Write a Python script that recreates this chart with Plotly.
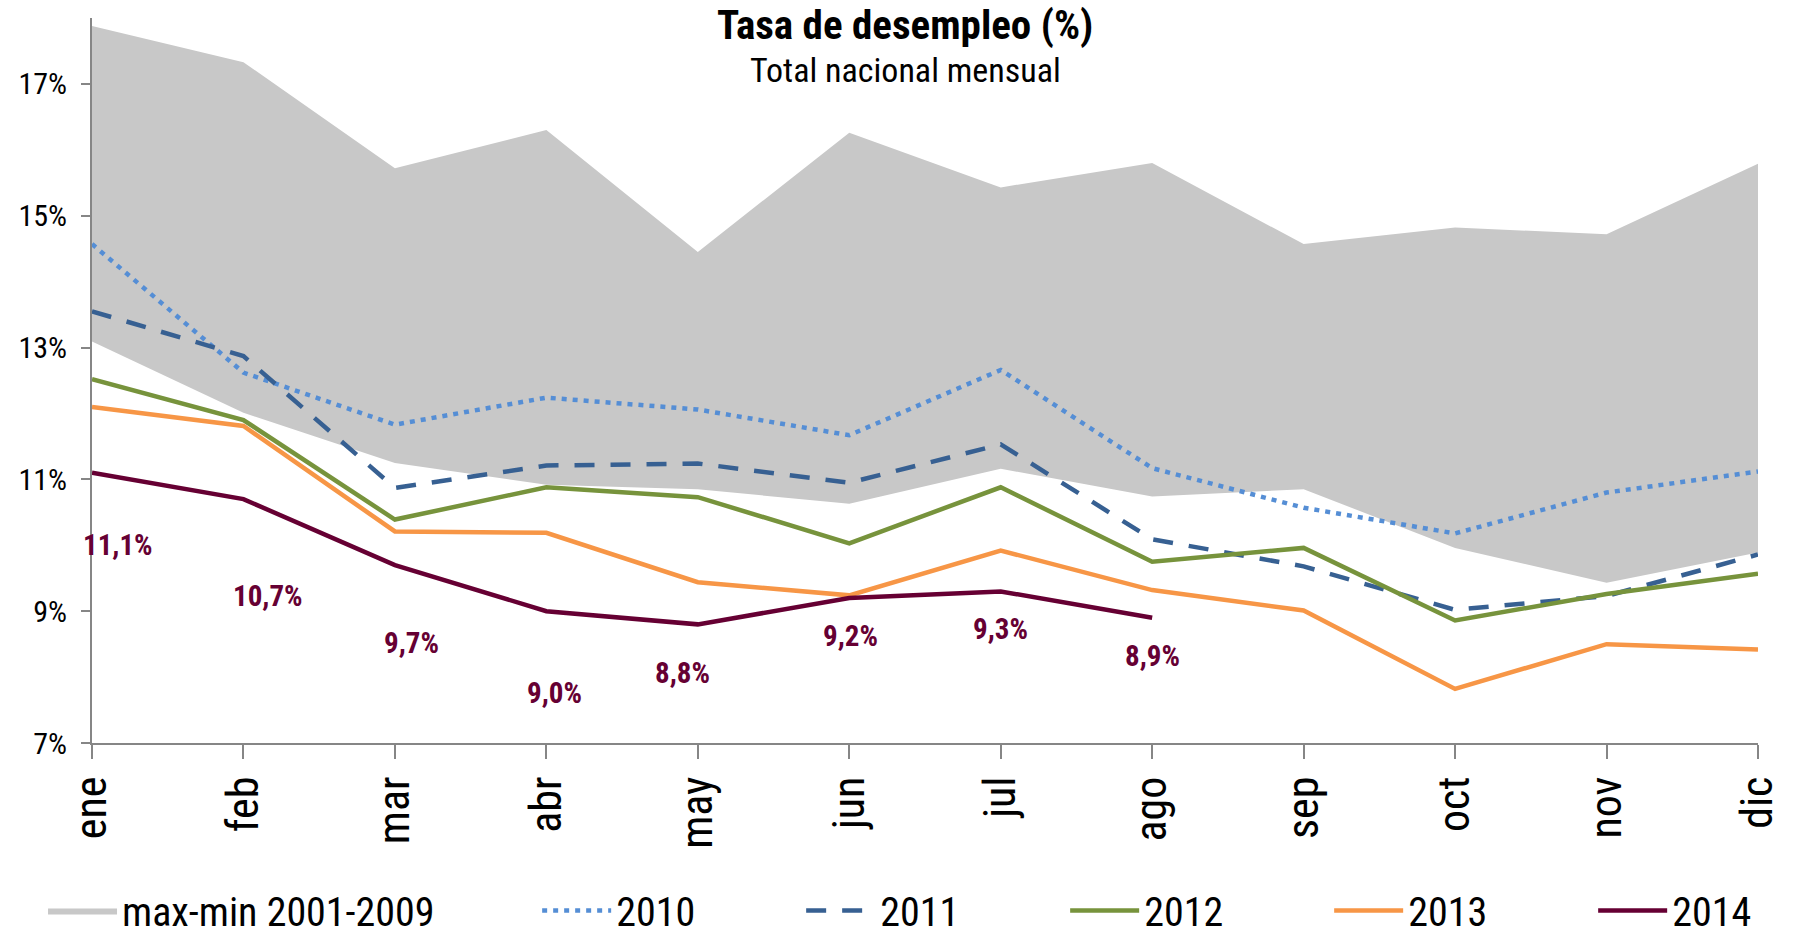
import plotly.graph_objects as go

months = ["ene", "feb", "mar", "abr", "may", "jun", "jul", "ago", "sep", "oct", "nov", "dic"]
band_max = [17.88, 17.33, 15.72, 16.30, 14.45, 16.26, 15.43, 15.80, 14.57, 14.82, 14.72, 15.79]
band_min = [13.09, 12.01, 11.25, 10.92, 10.85, 10.63, 11.16, 10.74, 10.85, 9.96, 9.43, 9.89]
y2010 = [14.57, 12.62, 11.83, 12.24, 12.06, 11.67, 12.66, 11.17, 10.57, 10.18, 10.80, 11.12]
y2011 = [13.55, 12.87, 10.87, 11.21, 11.24, 10.95, 11.53, 10.09, 9.68, 9.02, 9.23, 9.86]
y2012 = [12.52, 11.90, 10.39, 10.88, 10.73, 10.03, 10.88, 9.75, 9.96, 8.86, 9.26, 9.57]
y2013 = [12.10, 11.81, 10.21, 10.19, 9.44, 9.24, 9.92, 9.32, 9.01, 7.82, 8.50, 8.42]
y2014 = [11.1, 10.7, 9.7, 9.0, 8.8, 9.2, 9.3, 8.9]
y_ticks = [7, 9, 11, 13, 15, 17]

# label offsets (pixels) for the 2014 data labels
label_dx = [26, 25, 17, 8, -15, 1, 0, 0]
label_dy = [-72, -97, -78, -82, -49, -38, -38, -38]

FONT = "Roboto Condensed, Liberation Sans Narrow, Arial Narrow, DejaVu Sans Condensed, sans-serif"
GRAY = "#C8C8C8"
AXIS = "#868686"

fig = go.Figure()
fig.add_trace(go.Scatter(x=months, y=band_min, mode="lines", line=dict(width=0, color=GRAY),
                         showlegend=False, hoverinfo="skip"))
fig.add_trace(go.Scatter(x=months, y=band_max, mode="lines", line=dict(width=0, color=GRAY),
                         fill="tonexty", fillcolor=GRAY, name="max-min 2001-2009", legend="legend"))

series = [
    ("2010", y2010, "#558ED5", "5px,6px"),
    ("2011", y2011, "#376092", "20px,16px"),
    ("2012", y2012, "#77933C", "solid"),
    ("2013", y2013, "#F79646", "solid"),
    ("2014", y2014, "#660033", "solid"),
]
for name, ys, col, dash in series:
    fig.add_trace(go.Scatter(x=months[:len(ys)], y=ys, mode="lines", name=name,
                             line=dict(color=col, width=4.5, dash=dash), legend="legend2"))

for i, v in enumerate(y2014):
    fig.add_annotation(x=months[i], y=v, text=f"{v:.1f}%".replace(".", ","), showarrow=False,
                       xshift=label_dx[i], yshift=label_dy[i],
                       font=dict(family=FONT, size=29, color="#660033", weight="bold"))

fig.add_annotation(xref="paper", yref="paper", x=0.488, y=0.991, text="<b>Tasa de desempleo (%)</b>",
                   showarrow=False, yanchor="middle", font=dict(family=FONT, size=41, color="black"))
fig.add_annotation(xref="paper", yref="paper", x=0.488, y=0.928, text="Total nacional mensual",
                   showarrow=False, yanchor="middle", font=dict(family=FONT, size=34, color="black"))

fig.update_layout(
    width=1793, height=932,
    margin=dict(l=92, r=35, t=18, b=189, autoexpand=False),
    paper_bgcolor="white", plot_bgcolor="white",
    font=dict(family=FONT, color="black"),
    xaxis=dict(type="category", range=[0, 11], showline=True, linecolor=AXIS, linewidth=2,
               ticks="outside", ticklen=14, tickcolor=AXIS, tickwidth=2, tickangle=-90,
               showgrid=False, zeroline=False, tickfont=dict(family=FONT, size=44, color="black")),
    yaxis=dict(range=[7, 18], tickvals=y_ticks, ticktext=[f"{t}%" for t in y_ticks],
               showline=True, linecolor=AXIS, linewidth=2, ticks="outside", ticklen=9,
               tickcolor=AXIS, tickwidth=2, showgrid=False, zeroline=False, ticklabelstandoff=8,
               tickfont=dict(family=FONT, size=30, color="black")),
    legend=dict(orientation="h", x=-0.0294, xanchor="left", y=-0.231, yanchor="middle",
                itemwidth=69, font=dict(family=FONT, size=40, color="black"),
                bgcolor="rgba(0,0,0,0)"),
    legend2=dict(orientation="h", x=0.2672, xanchor="left", y=-0.231, yanchor="middle",
                 itemwidth=69, entrywidth=180, font=dict(family=FONT, size=40, color="black"),
                 bgcolor="rgba(0,0,0,0)"),
)

fig.write_html("out.html", config={"displayModeBar": False},
               post_script="document.body.style.margin='0';document.body.style.overflow='hidden';")
